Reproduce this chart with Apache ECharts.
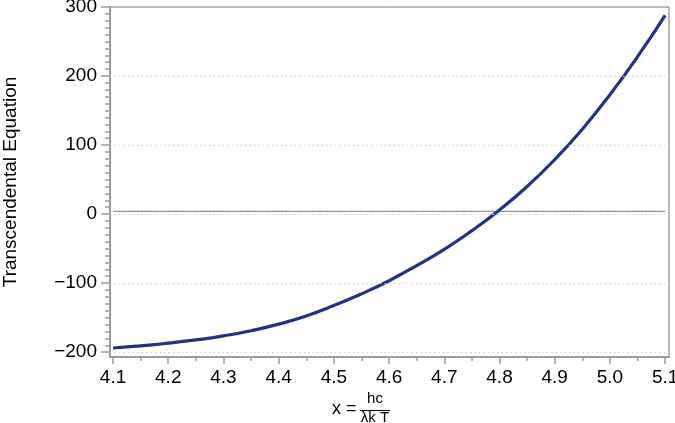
<!DOCTYPE html>
<html><head><meta charset="utf-8">
<script src="https://cdn.jsdelivr.net/npm/echarts@6/dist/echarts.min.js"></script>
<style>html,body{margin:0;padding:0;background:#fff}#c{width:675px;height:423px}</style>
</head><body><div id="c"></div>
<script>
// Data
const xValues = [4.1,4.15,4.2,4.25,4.3,4.35,4.4,4.45,4.5,4.55,4.6,4.65,4.7,4.75,4.8,4.85,4.9,4.95,5.0,5.05,5.1];
const curveValues = [-194,-191,-187,-182.3,-176.4,-168.9,-159.4,-147.5,-132.5,-115.5,-96.5,-74.5,-51,-24,6,40,79,123,173,228,288];
const refLineX = [4.1, 5.1];
const refLineY = [4, 4];
const xTicks = [4.1,4.2,4.3,4.4,4.5,4.6,4.7,4.8,4.9,5.0,5.1];
const xMinorTicks = [4.15,4.25,4.35,4.45,4.55,4.65,4.75,4.85,4.95,5.05];
const yTicks = [-200,-100,0,100,200,300];
const yGridValues = [-200,-100,0,100,200];
const yMinorTicks = [];
for (let v = -190; v < 300; v += 10) if (v % 100 !== 0) yMinorTicks.push(v);

const FONT = 'Liberation Sans, Arial, Helvetica, sans-serif';
const chart = echarts.init(document.getElementById('c'), null, {renderer:'canvas'});
const xMin = 4.0945, xMax = 5.107, yMin = -207, yMax = 300;
const axisGray = '#9a9a9a';

const xCommon = {type:'value', min:xMin, max:xMax, position:'bottom', splitLine:{show:false}};
const yCommon = {type:'value', min:yMin, max:yMax, position:'left', splitLine:{show:false}};

chart.setOption({
  animation:false,
  grid:{left:110, right:6, top:7, bottom:66, show:true, borderColor:'#777', borderWidth:1,
        backgroundColor:'transparent', containLabel:false, outerBoundsMode:'none'},
  xAxis:[
    Object.assign({}, xCommon, {
      axisLine:{show:true, onZero:false, lineStyle:{color:axisGray, width:2}},
      axisTick:{show:true, customValues:xTicks, length:7, lineStyle:{color:axisGray, width:1.5}},
      axisLabel:{show:true, customValues:xTicks, margin:11, color:'#000', fontSize:19, fontFamily:FONT,
        formatter:v=>v.toFixed(1)}
    }),
    Object.assign({}, xCommon, {
      axisLine:{show:false, onZero:false},
      axisTick:{show:true, customValues:xMinorTicks, length:4, lineStyle:{color:axisGray, width:1.5}},
      axisLabel:{show:false}
    })
  ],
  yAxis:[
    Object.assign({}, yCommon, {
      axisLine:{show:true, onZero:false, lineStyle:{color:axisGray, width:2}},
      axisTick:{show:true, customValues:yTicks, length:9, lineStyle:{color:axisGray, width:1.5}},
      axisLabel:{show:true, customValues:yTicks, margin:13, color:'#000', fontSize:19, fontFamily:FONT,
        formatter:v=>String(v).replace('-', '\u2212')},
      name:'Transcendental Equation', nameLocation:'middle', nameGap:90,
      nameTextStyle:{color:'#000', fontSize:19, fontFamily:FONT}
    }),
    Object.assign({}, yCommon, {
      axisLine:{show:false, onZero:false},
      axisTick:{show:true, customValues:yMinorTicks, length:5, lineStyle:{color:axisGray, width:1.5}},
      axisLabel:{show:false}
    })
  ],
  series:[
    {
      type:'line', xAxisIndex:0, yAxisIndex:0, symbol:'none', silent:true,
      data:refLineX.map((x,i)=>[x, refLineY[i]]),
      lineStyle:{color:'#7a7a7a', width:1},
      markLine:{silent:true, symbol:'none', label:{show:false},
        lineStyle:{color:'#c8c8c8', type:[1.5,3], width:1.2},
        data:yGridValues.map(v=>({yAxis:v}))},
      z:1
    },
    {
      type:'line', xAxisIndex:0, yAxisIndex:0, symbol:'none', smooth:true, silent:true,
      data:xValues.map((x,i)=>[x, curveValues[i]]),
      lineStyle:{color:'#24337f', width:3.2},
      z:3
    }
  ],
  graphic:[
    {type:'text', x:332, y:409, style:{text:'x =', font:'18px '+FONT, fill:'#000', verticalAlign:'middle'}},
    {type:'text', x:375, y:399, style:{text:'hc', font:'15px '+FONT, fill:'#000', align:'center', verticalAlign:'middle'}},
    {type:'line', shape:{x1:360, y1:410.5, x2:390, y2:410.5}, style:{stroke:'#000', lineWidth:1}},
    {type:'text', x:375, y:418, style:{text:'λk T', font:'15px '+FONT, fill:'#000', align:'center', verticalAlign:'middle'}}
  ]
});
</script></body></html>
